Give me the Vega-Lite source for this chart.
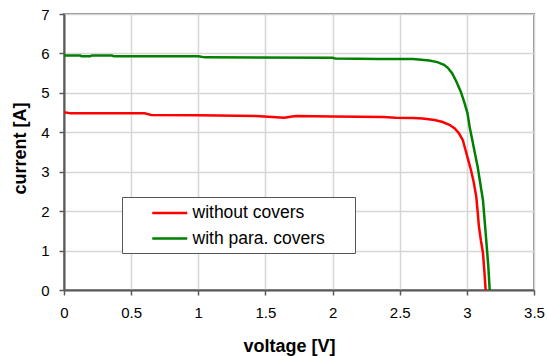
{
  "$schema": "https://vega.github.io/schema/vega-lite/v6.json",
  "width": 470,
  "height": 276,
  "autosize": {"type": "none"},
  "padding": {"left": 64, "top": 14, "right": 13, "bottom": 66},
  "background": "white",
  "config": {
    "font": "Liberation Sans",
    "view": {"stroke": "#8a8a8a", "strokeWidth": 2},
    "axis": {
      "gridColor": "#d6d6d6",
      "gridWidth": 1.5,
      "domainColor": "#5a5a5a",
      "domainWidth": 2,
      "tickColor": "#5a5a5a",
      "tickWidth": 1.5,
      "tickSize": 5,
      "labelFont": "Liberation Sans",
      "labelFontSize": 15,
      "labelColor": "#000000",
      "titleFont": "Liberation Sans",
      "titleFontSize": 18,
      "titleFontWeight": "bold",
      "titleColor": "#000000"
    }
  },
  "data": {
    "values": [
      {"series": "without covers", "v": 0, "i": 4.51},
      {"series": "without covers", "v": 0.05, "i": 4.48},
      {"series": "without covers", "v": 0.6, "i": 4.48},
      {"series": "without covers", "v": 0.65, "i": 4.44},
      {"series": "without covers", "v": 1.0, "i": 4.43},
      {"series": "without covers", "v": 1.43, "i": 4.41},
      {"series": "without covers", "v": 1.58, "i": 4.38},
      {"series": "without covers", "v": 1.64, "i": 4.37},
      {"series": "without covers", "v": 1.7, "i": 4.4},
      {"series": "without covers", "v": 1.73, "i": 4.41},
      {"series": "without covers", "v": 2.0, "i": 4.4},
      {"series": "without covers", "v": 2.38, "i": 4.39},
      {"series": "without covers", "v": 2.47, "i": 4.37},
      {"series": "without covers", "v": 2.6, "i": 4.36},
      {"series": "without covers", "v": 2.67, "i": 4.35},
      {"series": "without covers", "v": 2.76, "i": 4.31},
      {"series": "without covers", "v": 2.82, "i": 4.26},
      {"series": "without covers", "v": 2.87, "i": 4.19},
      {"series": "without covers", "v": 2.91, "i": 4.1},
      {"series": "without covers", "v": 2.94, "i": 3.98},
      {"series": "without covers", "v": 2.97, "i": 3.8},
      {"series": "without covers", "v": 2.99, "i": 3.55},
      {"series": "without covers", "v": 3.01, "i": 3.3},
      {"series": "without covers", "v": 3.03, "i": 3.05},
      {"series": "without covers", "v": 3.05, "i": 2.75},
      {"series": "without covers", "v": 3.07, "i": 2.37},
      {"series": "without covers", "v": 3.08, "i": 2.0},
      {"series": "without covers", "v": 3.09, "i": 1.61},
      {"series": "without covers", "v": 3.105, "i": 1.25},
      {"series": "without covers", "v": 3.12, "i": 0.94},
      {"series": "without covers", "v": 3.13, "i": 0.5},
      {"series": "without covers", "v": 3.14, "i": 0},
      {"series": "with para. covers", "v": 0, "i": 5.95},
      {"series": "with para. covers", "v": 0.12, "i": 5.95},
      {"series": "with para. covers", "v": 0.13, "i": 5.93},
      {"series": "with para. covers", "v": 0.195, "i": 5.93},
      {"series": "with para. covers", "v": 0.21, "i": 5.95},
      {"series": "with para. covers", "v": 0.355, "i": 5.95},
      {"series": "with para. covers", "v": 0.37, "i": 5.93},
      {"series": "with para. covers", "v": 1.0, "i": 5.93},
      {"series": "with para. covers", "v": 1.05, "i": 5.9},
      {"series": "with para. covers", "v": 2.0, "i": 5.89},
      {"series": "with para. covers", "v": 2.02, "i": 5.87},
      {"series": "with para. covers", "v": 2.35, "i": 5.86},
      {"series": "with para. covers", "v": 2.6, "i": 5.86},
      {"series": "with para. covers", "v": 2.72, "i": 5.82},
      {"series": "with para. covers", "v": 2.78, "i": 5.78},
      {"series": "with para. covers", "v": 2.83, "i": 5.71},
      {"series": "with para. covers", "v": 2.86, "i": 5.63},
      {"series": "with para. covers", "v": 2.89, "i": 5.5},
      {"series": "with para. covers", "v": 2.92, "i": 5.3},
      {"series": "with para. covers", "v": 2.955, "i": 5.03},
      {"series": "with para. covers", "v": 2.98, "i": 4.77},
      {"series": "with para. covers", "v": 3.005, "i": 4.48},
      {"series": "with para. covers", "v": 3.02, "i": 4.15},
      {"series": "with para. covers", "v": 3.04, "i": 3.81},
      {"series": "with para. covers", "v": 3.06, "i": 3.47},
      {"series": "with para. covers", "v": 3.08, "i": 3.13},
      {"series": "with para. covers", "v": 3.1, "i": 2.7},
      {"series": "with para. covers", "v": 3.12, "i": 2.28},
      {"series": "with para. covers", "v": 3.13, "i": 1.86},
      {"series": "with para. covers", "v": 3.14, "i": 1.44},
      {"series": "with para. covers", "v": 3.15, "i": 1.02},
      {"series": "with para. covers", "v": 3.16, "i": 0.59},
      {"series": "with para. covers", "v": 3.17, "i": 0}
    ]
  },
  "mark": {"type": "line", "strokeWidth": 2.5, "clip": true},
  "encoding": {
    "x": {
      "field": "v",
      "type": "quantitative",
      "scale": {"domain": [0, 3.5], "nice": false, "zero": false},
      "axis": {
        "title": "voltage [V]",
        "values": [0, 0.5, 1, 1.5, 2, 2.5, 3, 3.5],
        "format": "~g",
        "labelPadding": 10,
        "labelFlush": false,
        "labelOverlap": false,
        "titleX": 225,
        "titleY": 61,
        "titleBaseline": "alphabetic",
        "titleAlign": "center",
        "titleAnchor": null
      }
    },
    "y": {
      "field": "i",
      "type": "quantitative",
      "scale": {"domain": [0, 7], "nice": false},
      "axis": {
        "title": "current [A]",
        "values": [0, 1, 2, 3, 4, 5, 6, 7],
        "labelPadding": 10,
        "labelFlush": false,
        "labelOverlap": false,
        "titleX": -39,
        "titleY": 134,
        "titleBaseline": "alphabetic",
        "titleAlign": "center",
        "titleAngle": -90
      }
    },
    "color": {
      "field": "series",
      "type": "nominal",
      "scale": {"domain": ["without covers", "with para. covers"], "range": ["#ff0000", "#008000"]},
      "legend": {
        "title": "\u00a0",
        "titleOrient": "right",
        "titlePadding": 24,
        "titleFontSize": 17,
        "orient": "none",
        "legendX": 58,
        "legendY": 183,
        "symbolType": "M-2,0H2",
        "symbolSize": 306,
        "symbolStrokeWidth": 2.5,
        "symbolOffset": 31.75,
        "labelOffset": 12.75,
        "labelFontSize": 17.5,
        "labelFont": "Liberation Sans",
        "labelColor": "#000000",
        "padding": 6,
        "rowPadding": 6.5,
        "strokeColor": "#555555",
        "fillColor": "#ffffff",
        "cornerRadius": 0
      }
    }
  }
}
